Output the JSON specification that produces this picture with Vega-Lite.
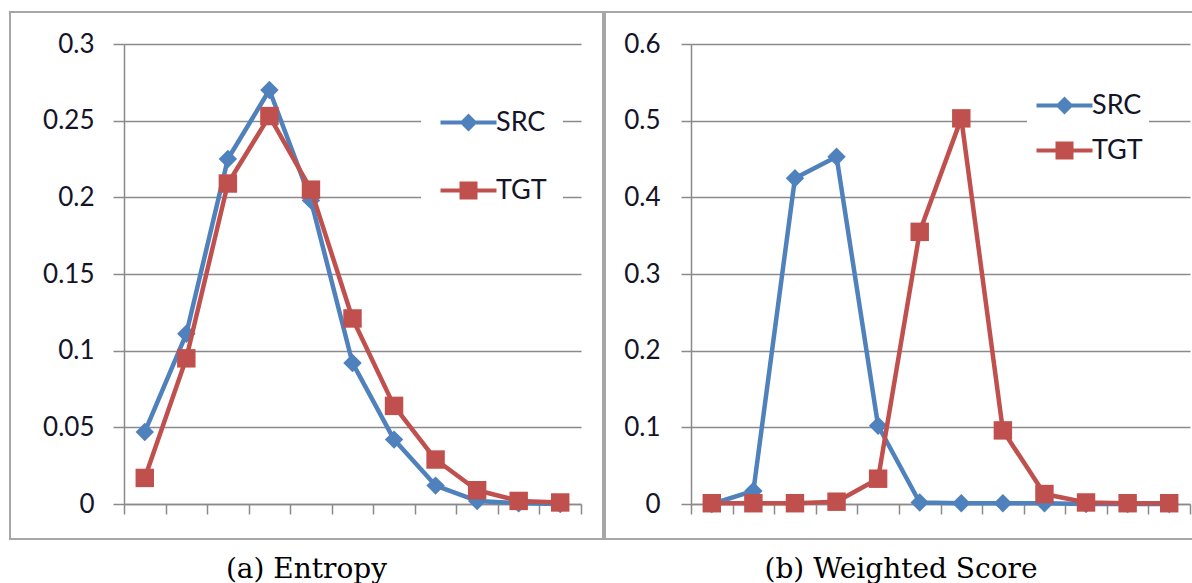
{
  "$schema": "https://vega.github.io/schema/vega-lite/v6.json",
  "padding": {"left": 9, "top": 11, "right": 0, "bottom": 0},
  "spacing": 0,
  "background": "white",
  "config": {
    "view": {"stroke": "#a6a6a6", "strokeWidth": 2},
    "axis": {
      "labelFont": "Lato", "labelFontSize": 26, "labelColor": "#141428",
      "domainColor": "#8a8a8a", "domainWidth": 1.5,
      "tickColor": "#8a8a8a", "tickWidth": 1.5,
      "gridColor": "#8a8a8a", "gridWidth": 1.5,
      "title": null
    },
    "title": {"font": "DejaVu Serif", "fontSize": 28, "fontWeight": "normal", "color": "#000000", "anchor": "middle", "offset": 17},
    "legend": {
      "title": null, "orient": "none", "labelFont": "Lato", "labelFontSize": 27, "labelColor": "#141428",
      "fillColor": "white", "symbolSize": 400, "symbolOffset": 18, "labelOffset": 14,
      "symbolOpacity": 1, "symbolStrokeWidth": 0
    }
  },
  "datasets": {
    "entropy": [
      {"bin": 1, "series": "SRC", "value": 0.047},
      {"bin": 2, "series": "SRC", "value": 0.111},
      {"bin": 3, "series": "SRC", "value": 0.225},
      {"bin": 4, "series": "SRC", "value": 0.270},
      {"bin": 5, "series": "SRC", "value": 0.198},
      {"bin": 6, "series": "SRC", "value": 0.092},
      {"bin": 7, "series": "SRC", "value": 0.042},
      {"bin": 8, "series": "SRC", "value": 0.012},
      {"bin": 9, "series": "SRC", "value": 0.002},
      {"bin": 10, "series": "SRC", "value": 0.0005},
      {"bin": 11, "series": "SRC", "value": 0.0},
      {"bin": 1, "series": "TGT", "value": 0.017},
      {"bin": 2, "series": "TGT", "value": 0.095},
      {"bin": 3, "series": "TGT", "value": 0.209},
      {"bin": 4, "series": "TGT", "value": 0.253},
      {"bin": 5, "series": "TGT", "value": 0.205},
      {"bin": 6, "series": "TGT", "value": 0.121},
      {"bin": 7, "series": "TGT", "value": 0.064},
      {"bin": 8, "series": "TGT", "value": 0.029},
      {"bin": 9, "series": "TGT", "value": 0.009},
      {"bin": 10, "series": "TGT", "value": 0.002},
      {"bin": 11, "series": "TGT", "value": 0.001}
    ],
    "weighted": [
      {"bin": 1, "series": "SRC", "value": 0.0},
      {"bin": 2, "series": "SRC", "value": 0.017},
      {"bin": 3, "series": "SRC", "value": 0.425},
      {"bin": 4, "series": "SRC", "value": 0.453},
      {"bin": 5, "series": "SRC", "value": 0.102},
      {"bin": 6, "series": "SRC", "value": 0.002},
      {"bin": 7, "series": "SRC", "value": 0.001},
      {"bin": 8, "series": "SRC", "value": 0.001},
      {"bin": 9, "series": "SRC", "value": 0.001},
      {"bin": 10, "series": "SRC", "value": 0.0},
      {"bin": 11, "series": "SRC", "value": 0.0},
      {"bin": 12, "series": "SRC", "value": 0.0},
      {"bin": 1, "series": "TGT", "value": 0.001},
      {"bin": 2, "series": "TGT", "value": 0.001},
      {"bin": 3, "series": "TGT", "value": 0.001},
      {"bin": 4, "series": "TGT", "value": 0.003},
      {"bin": 5, "series": "TGT", "value": 0.033},
      {"bin": 6, "series": "TGT", "value": 0.355},
      {"bin": 7, "series": "TGT", "value": 0.503},
      {"bin": 8, "series": "TGT", "value": 0.096},
      {"bin": 9, "series": "TGT", "value": 0.013},
      {"bin": 10, "series": "TGT", "value": 0.002},
      {"bin": 11, "series": "TGT", "value": 0.001},
      {"bin": 12, "series": "TGT", "value": 0.001}
    ]
  },
  "resolve": {"scale": {"color": "independent", "shape": "independent"}, "legend": {"color": "independent", "shape": "independent"}},
  "hconcat": [
    {
      "width": 593, "height": 527,
      "title": {"text": "(a) Entropy", "orient": "bottom"},
      "data": {"name": "entropy"},
      "encoding": {
        "x": {"field": "bin", "type": "ordinal",
          "scale": {"domain": [1,2,3,4,5,6,7,8,9,10,11], "range": [114, 571], "paddingInner": 0, "paddingOuter": 0},
          "axis": {"orient": "bottom", "offset": -35, "labels": false, "tickBand": "extent", "tickSize": 10, "grid": false}},
        "y": {"field": "value", "type": "quantitative",
          "scale": {"domain": [0, 0.3], "range": [492, 32], "nice": false},
          "axis": {"offset": -114, "values": [0, 0.05, 0.1, 0.15, 0.2, 0.25, 0.3], "format": "~g", "tickSize": 11, "labelPadding": 19, "grid": true}},
        "color": {"field": "series", "type": "nominal",
          "scale": {"domain": ["SRC", "TGT"], "range": ["#4F81BD", "#C0504D"]},
          "legend": {"legendX": 411, "legendY": 81, "padding": 16, "rowPadding": 40}}
      },
      "layer": [
        {"transform": [{"filter": "datum.series === 'SRC'"}], "mark": {"type": "line", "strokeWidth": 4.5, "strokeJoin": "round"}},
        {"transform": [{"filter": "datum.series === 'SRC'"}], "mark": {"type": "point", "shape": "diamond", "filled": true, "opacity": 1, "size": 340}},
        {"transform": [{"filter": "datum.series === 'TGT'"}], "mark": {"type": "line", "strokeWidth": 4.5, "strokeJoin": "round"}},
        {"transform": [{"filter": "datum.series === 'TGT'"}], "mark": {"type": "point", "shape": "square", "filled": true, "opacity": 1, "size": 340}},
        {"mark": {"type": "point", "filled": true, "opacity": 0},
         "encoding": {"shape": {"field": "series", "type": "nominal",
           "scale": {"domain": ["SRC", "TGT"], "range": ["M-2.8,-0.2H2.8V0.2H-2.8Z M0,-0.9L0.9,0L0,0.9L-0.9,0Z", "M-2.8,-0.2H2.8V0.2H-2.8Z M-0.9,-0.9H0.9V0.9H-0.9Z"]},
           "legend": {"legendX": 411, "legendY": 81, "padding": 16, "rowPadding": 40}}}}
      ]
    },
    {
      "width": 592, "height": 527,
      "title": {"text": "(b) Weighted Score", "orient": "bottom"},
      "data": {"name": "weighted"},
      "encoding": {
        "x": {"field": "bin", "type": "ordinal",
          "scale": {"domain": [1,2,3,4,5,6,7,8,9,10,11,12], "range": [86, 585], "paddingInner": 0, "paddingOuter": 0},
          "axis": {"orient": "bottom", "offset": -35, "labels": false, "tickBand": "extent", "tickSize": 10, "grid": false}},
        "y": {"field": "value", "type": "quantitative",
          "scale": {"domain": [0, 0.6], "range": [492, 32], "nice": false},
          "axis": {"offset": -86, "values": [0, 0.1, 0.2, 0.3, 0.4, 0.5, 0.6], "format": "~g", "tickSize": 10, "labelPadding": 21, "grid": true}},
        "color": {"field": "series", "type": "nominal",
          "scale": {"domain": ["SRC", "TGT"], "range": ["#4F81BD", "#C0504D"]},
          "legend": {"legendX": 422, "legendY": 74, "padding": 6, "rowPadding": 17}}
      },
      "layer": [
        {"transform": [{"filter": "datum.series === 'SRC'"}], "mark": {"type": "line", "strokeWidth": 4.5, "strokeJoin": "round"}},
        {"transform": [{"filter": "datum.series === 'SRC'"}], "mark": {"type": "point", "shape": "diamond", "filled": true, "opacity": 1, "size": 340}},
        {"transform": [{"filter": "datum.series === 'TGT'"}], "mark": {"type": "line", "strokeWidth": 4.5, "strokeJoin": "round"}},
        {"transform": [{"filter": "datum.series === 'TGT'"}], "mark": {"type": "point", "shape": "square", "filled": true, "opacity": 1, "size": 340}},
        {"mark": {"type": "point", "filled": true, "opacity": 0},
         "encoding": {"shape": {"field": "series", "type": "nominal",
           "scale": {"domain": ["SRC", "TGT"], "range": ["M-2.8,-0.2H2.8V0.2H-2.8Z M0,-0.9L0.9,0L0,0.9L-0.9,0Z", "M-2.8,-0.2H2.8V0.2H-2.8Z M-0.9,-0.9H0.9V0.9H-0.9Z"]},
           "legend": {"legendX": 422, "legendY": 74, "padding": 6, "rowPadding": 17}}}}
      ]
    }
  ]
}
